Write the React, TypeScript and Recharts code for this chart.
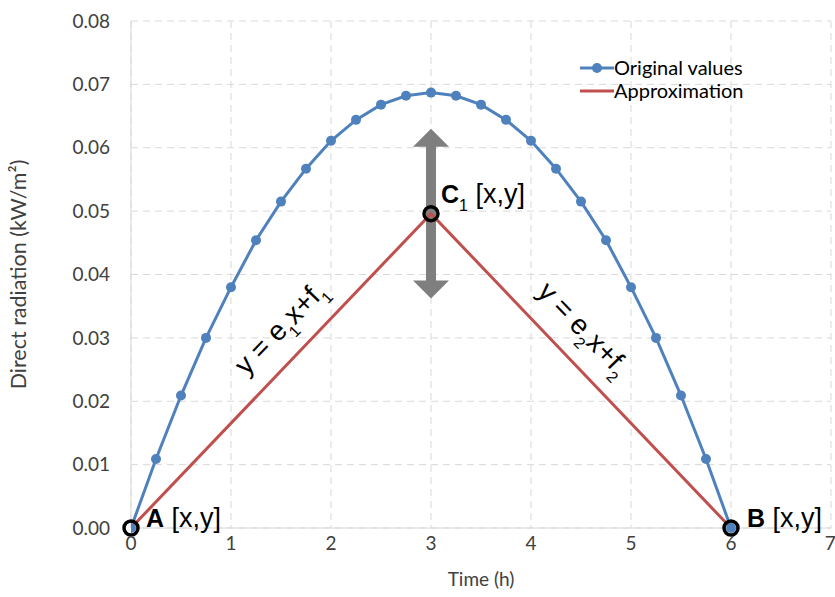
import React from 'react'
import { LineChart, Line, XAxis, YAxis, CartesianGrid, ReferenceDot, ReferenceLine } from 'recharts'

// sampled every quarter hour
const hours = [0, 0.25, 0.5, 0.75, 1, 1.25, 1.5, 1.75, 2, 2.25, 2.5, 2.75, 3, 3.25, 3.5, 3.75, 4, 4.25, 4.5, 4.75, 5, 5.25, 5.5, 5.75, 6]
const radiation = [0, 0.0109, 0.0209, 0.03, 0.038, 0.0454, 0.0515, 0.0567, 0.0611, 0.0644, 0.0668, 0.0682, 0.0687, 0.0682, 0.0668, 0.0644, 0.0611, 0.0567, 0.0515, 0.0454, 0.038, 0.03, 0.0209, 0.0109, 0]

const approxHours = [0, 3, 6]
const approxValues = [0, 0.0496, 0]

const xTicks = [0, 1, 2, 3, 4, 5, 6, 7]
const yTicks = [0, 0.01, 0.02, 0.03, 0.04, 0.05, 0.06, 0.07, 0.08]

// grey arrow range at the peak hour
const arrowX = 3
const arrowLow = 0.0362
const arrowHigh = 0.063

const original = hours.map((h, i) => ({ x: h, y: radiation[i] }))
const approximation = approxHours.map((h, i) => ({ x: h, y: approxValues[i] }))

const BLUE = '#4f81bd'
const RED = '#c0504d'
const TEXT = '#404040'
const LABEL_FONT = '"Liberation Sans", Arial, sans-serif'
const AXIS_FONT = 'Lato, "Open Sans", sans-serif'

function DoubleArrow(props: any) {
  const { x1, y1, x2, y2 } = props
  const cx = (x1 + x2) / 2
  const top = Math.min(y1, y2)
  const bottom = Math.max(y1, y2)
  const head = 18
  const hw = 18
  const sw = 5
  const pts = [
    [cx, top],
    [cx + hw, top + head],
    [cx + sw, top + head],
    [cx + sw, bottom - head],
    [cx + hw, bottom - head],
    [cx, bottom],
    [cx - hw, bottom - head],
    [cx - sw, bottom - head],
    [cx - sw, top + head],
    [cx - hw, top + head],
  ]
  return <polygon points={pts.map((p) => p.join(',')).join(' ')} fill="#7f7f7f" />
}

const pointLabel = (name: string, sub: string | null, dx: number, dy: number) => (props: any) => {
  const { cx, cy } = props
  return (
    <g>
      <circle cx={cx} cy={cy} r={7} fill="none" stroke="#000" strokeWidth={3.5} />
      <text x={cx + dx} y={cy + dy} fontFamily={LABEL_FONT} fontSize={25} fill="#000">
        <tspan fontWeight="bold">{name}</tspan>
        {sub && (
          <tspan fontSize={16} dy={8}>
            {sub}
          </tspan>
        )}
        <tspan dy={sub ? -8 : 0} fontSize={27}> [x,y]</tspan>
      </text>
    </g>
  )
}

const slopeLabel = (e: string, f: string, angle: number) => (props: any) => {
  const { cx, cy } = props
  return (
    <text
      x={cx}
      y={cy}
      transform={`rotate(${angle} ${cx} ${cy})`}
      textAnchor="middle"
      fontFamily={LABEL_FONT}
      fontSize={28}
      fill="#000"
    >
      y = e<tspan fontSize={16} dy={9}>{e}</tspan>
      <tspan dy={-9}>x+f</tspan>
      <tspan fontSize={16} dy={9}>{f}</tspan>
    </text>
  )
}

function LegendBox() {
  const rows = [
    { name: 'Original values', color: BLUE, dot: true },
    { name: 'Approximation', color: RED, dot: false },
  ]
  return (
    <svg width={200} height={50} style={{ position: 'absolute', left: 578, top: 56 }}>
      {rows.map((r, i) => (
        <g key={r.name} transform={`translate(0, ${12 + i * 23})`}>
          <line x1={2} x2={36} y1={0} y2={0} stroke={r.color} strokeWidth={3} />
          {r.dot && <circle cx={19} cy={0} r={5} fill={r.color} />}
          <text x={36} y={7} fontFamily={AXIS_FONT} fontSize={20} fill="#000">
            {r.name}
          </text>
        </g>
      ))}
    </svg>
  )
}

export default function App() {
  return (
    <div style={{ position: 'absolute', left: 0, top: 0, width: 835, height: 597, background: '#fff' }}>
      <LineChart width={835} height={597} margin={{ top: 21, right: 4, left: 0, bottom: 29 }}>
        <CartesianGrid stroke="#d9d9d9" strokeDasharray="7 5" />
        <XAxis
          type="number"
          dataKey="x"
          domain={[0, 7]}
          ticks={xTicks}
          allowDataOverflow
          height={40}
          axisLine={{ stroke: '#d9d9d9' }}
          tickLine={false}
          tickSize={0}
          tickMargin={9}
          tick={{ fontSize: 19, fill: TEXT, fontFamily: AXIS_FONT }}
          label={{ value: 'Time (h)', position: 'insideBottom', offset: -18, fontSize: 19, fill: TEXT, fontFamily: AXIS_FONT }}
        />
        <YAxis
          type="number"
          dataKey="y"
          domain={[0, 0.08]}
          ticks={yTicks}
          width={131}
          axisLine={{ stroke: '#d9d9d9' }}
          tickLine={false}
          tickSize={0}
          tickMargin={21}
          tickFormatter={(v: number) => v.toFixed(2)}
          tick={{ fontSize: 19, fill: TEXT, fontFamily: AXIS_FONT }}
          label={{
            value: 'Direct radiation (kW/m²)',
            angle: -90,
            position: 'insideLeft',
            offset: 18,
            style: { textAnchor: 'middle', fontSize: 21.5, fill: TEXT, fontFamily: AXIS_FONT },
          }}
        />
        <Line
          data={original}
          dataKey="y"
          name="Original values"
          stroke={BLUE}
          strokeWidth={3}
          dot={{ r: 5, fill: BLUE, stroke: BLUE, strokeWidth: 0 }}
          isAnimationActive={false}
        />
        <ReferenceLine
          segment={[
            { x: arrowX, y: arrowLow },
            { x: arrowX, y: arrowHigh },
          ]}
          shape={DoubleArrow}
        />
        <Line
          data={approximation}
          dataKey="y"
          name="Approximation"
          stroke={RED}
          strokeWidth={3}
          dot={false}
          isAnimationActive={false}
        />
        <ReferenceDot x={approxHours[0]} y={approxValues[0]} shape={pointLabel('A', null, 15, -1)} />
        <ReferenceDot x={approxHours[1]} y={approxValues[1]} shape={pointLabel('C', '1', 10, -11)} />
        <ReferenceDot x={approxHours[2]} y={approxValues[2]} shape={pointLabel('B', null, 16, -1)} />
        <ReferenceDot x={1.56} y={0.0306} shape={slopeLabel('1', '1', -46)} />
        <ReferenceDot x={4.46} y={0.0304} shape={slopeLabel('2', '2', 46)} />
      </LineChart>
      <LegendBox />
    </div>
  )
}
